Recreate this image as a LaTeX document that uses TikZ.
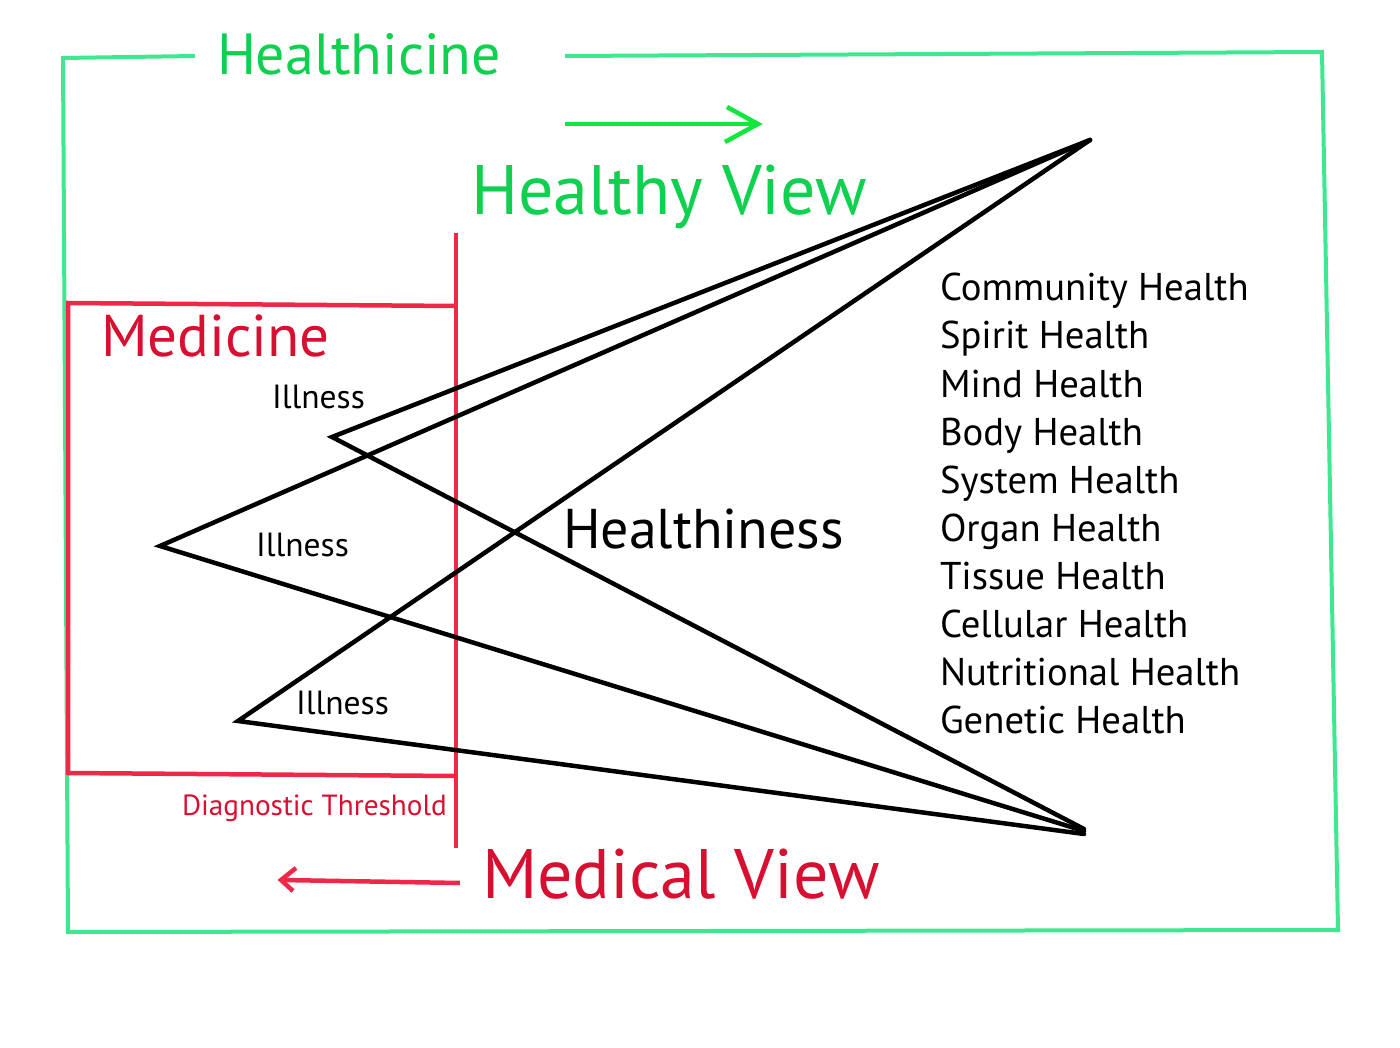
\documentclass[tikz,border=0pt]{standalone}
\usepackage{fontspec}
\setmainfont{PT Sans}
\definecolor{framegreen}{RGB}{62,232,144}
\definecolor{textgreen}{RGB}{16,208,80}
\definecolor{arrowgreen}{RGB}{16,230,60}
\definecolor{linered}{RGB}{240,40,72}
\definecolor{textred}{RGB}{215,16,50}
\tikzset{
  frame/.style={draw=framegreen,line width=4pt,line join=miter},
  redline/.style={draw=linered,line width=4.5pt},
  blk/.style={draw=black,line width=4.5pt,line join=miter,line cap=round},
  lbl/.style={anchor=base west,inner sep=0pt,outer sep=0pt},
  big/.style={lbl,font=\fontsize{58}{70}\selectfont},
  huge/.style={lbl,font=\fontsize{70}{84}\selectfont},
  ill/.style={lbl,font=\fontsize{33.5}{40}\selectfont},
  listfont/.style={lbl,font=\fontsize{38.7}{48}\selectfont},
}
\begin{document}
\begin{tikzpicture}[x=1pt,y=-1pt]
\useasboundingbox (0,0) rectangle (1400,1048);
% green frame
\draw[frame] (195,56) -- (63,58) -- (68,932) -- (1338,930) -- (1322,52) -- (565,56);
\node[big,text=textgreen] (healthicine) at (217,75) {Healthicine};
% green arrow
\coordinate (ga1) at (565,124);
\coordinate (ga2) at (758,124);
\draw[draw=arrowgreen,line width=4.5pt] (ga1) -- (ga2);
\draw[draw=arrowgreen,line width=4.5pt] (727,107) -- (ga2) -- (725,142);
\node[huge,text=textgreen] (healthy) at (471,215) {Healthy View};
% red medicine box
\draw[redline] (456,306) -- (68,303) -- (68,775);
\draw[redline] (68,773) -- (456,776);
\draw[redline] (456,233) -- (456,848);
\node[lbl,text=textred,font=\fontsize{59}{70}\selectfont] (medicine) at (101,357) {Medicine};
\node[lbl,text=textred,font=\fontsize{29.2}{34}\selectfont] (diag) at (182,815) {Diagnostic Threshold};
% red arrow
\coordinate (ra1) at (460,883);
\coordinate (ra2) at (281,880);
\draw[redline] (ra1) -- (ra2);
\draw[redline] (296,868) -- (ra2) -- (293,891);
\node[huge,text=textred] (medical) at (482,898) {Medical View};
% zigzag
\coordinate (top) at (1090,140);
\coordinate (i1) at (332,437);
\coordinate (i2) at (160,546);
\coordinate (i3) at (238,721);
\coordinate (b1) at (1084,829);
\coordinate (b2) at (1084,831);
\coordinate (b3) at (1084,834);
\draw[blk] (top) -- (i1) -- (b1);
\draw[blk] (top) -- (i2) -- (b2);
\draw[blk] (top) -- (i3) -- (b3);
\node[ill] (ill1) at (272,408) {Illness};
\node[ill] (ill2) at (256,556) {Illness};
\node[ill] (ill3) at (296,714) {Illness};
\node[lbl,font=\fontsize{56}{68}\selectfont] (healthiness) at (563,548) {Healthiness};
% list
\node[listfont] (l1) at (940,301) {Community Health};
\node[listfont] (l2) at (940,349) {Spirit Health};
\node[listfont] (l3) at (940,397) {Mind Health};
\node[listfont] (l4) at (940,445) {Body Health};
\node[listfont] (l5) at (940,493) {System Health};
\node[listfont] (l6) at (940,541) {Organ Health};
\node[listfont] (l7) at (940,589) {Tissue Health};
\node[listfont] (l8) at (940,637) {Cellular Health};
\node[listfont] (l9) at (940,685) {Nutritional Health};
\node[listfont] (l10) at (940,733) {Genetic Health};
\end{tikzpicture}
\end{document}
